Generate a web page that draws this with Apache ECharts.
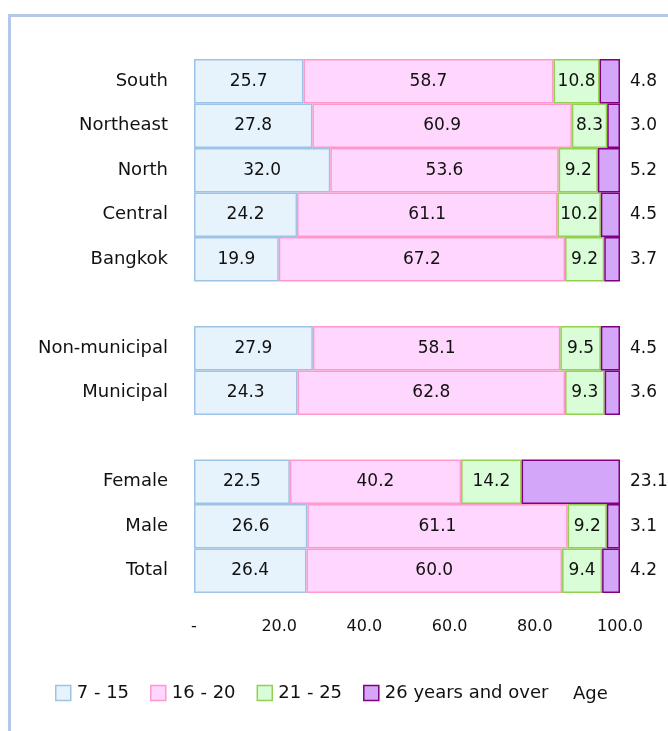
<!DOCTYPE html>
<html>
<head>
<meta charset="utf-8">
<script src="https://cdn.jsdelivr.net/npm/echarts@6/dist/echarts.min.js"></script>
<style>
  html, body { margin: 0; padding: 0; background: #ffffff; }
  #chart { width: 668px; height: 731px; }
</style>
</head>
<body>
<div id="chart"></div>
<script>
// Row labels, top to bottom; empty strings (distinct whitespace) are spacer rows between groups
const categories = ['South', 'Northeast', 'North', 'Central', 'Bangkok', ' ',
                    'Non-municipal', 'Municipal', '  ',
                    'Female', 'Male', 'Total'];

// Share of each age group (%), one value per row; null on spacer rows
const age7to15   = [25.7, 27.8, 32.0, 24.2, 19.9, null, 27.9, 24.3, null, 22.5, 26.6, 26.4];
const age16to20  = [58.7, 60.9, 53.6, 61.1, 67.2, null, 58.1, 62.8, null, 40.2, 61.1, 60.0];
const age21to25  = [10.8,  8.3,  9.2, 10.2,  9.2, null,  9.5,  9.3, null, 14.2,  9.2,  9.4];
const age26plus  = [ 4.8,  3.0,  5.2,  4.5,  3.7, null,  4.5,  3.6, null, 23.1,  3.1,  4.2];

const seriesNames = ['7 - 15', '16 - 20', '21 - 25', '26 years and over'];
const axisTicks = [0, 20, 40, 60, 80, 100];

const FONT = 'DejaVu Sans';
const TEXT = '#111111';

const styles = [
  { fill: '#e6f3fd', border: '#9dc3e6' },
  { fill: '#ffd6fd', border: '#ff99cc' },
  { fill: '#d9fdd6', border: '#92d050' },
  { fill: '#d4a6f9', border: '#800080' }
];

function fmt(v) { return v == null ? '' : v.toFixed(1); }

const dataSets = [age7to15, age16to20, age21to25, age26plus];

const series = dataSets.map((values, i) => ({
  name: seriesNames[i],
  type: 'bar',
  stack: 'share',
  barCategoryGap: '0%',
  data: values,
  itemStyle: {
    color: styles[i].fill,
    borderColor: styles[i].border,
    borderWidth: 1.5
  },
  label: {
    show: true,
    position: i === 3 ? 'right' : 'inside',
    distance: 10,
    color: TEXT,
    fontFamily: FONT,
    fontSize: 17,
    formatter: p => fmt(p.value)
  },
  emphasis: { disabled: true }
}));

const chart = echarts.init(document.getElementById('chart'), null, { renderer: 'canvas' });
chart.setOption({
  animation: false,
  backgroundColor: '#ffffff',
  grid: { left: 194, right: 48, top: 59, bottom: 138, containLabel: false },
  xAxis: {
    type: 'value',
    min: axisTicks[0],
    max: axisTicks[axisTicks.length - 1],
    interval: axisTicks[1] - axisTicks[0],
    axisLine: { show: false },
    axisTick: { show: false },
    splitLine: { show: false },
    axisLabel: {
      margin: 26,
      color: TEXT,
      fontFamily: FONT,
      fontSize: 16,
      formatter: v => (v === 0 ? '-' : v.toFixed(1))
    }
  },
  yAxis: {
    type: 'category',
    inverse: true,
    data: categories,
    axisLine: { show: false },
    axisTick: { show: false },
    splitLine: { show: false },
    axisLabel: {
      margin: 26,
      color: TEXT,
      fontFamily: FONT,
      fontSize: 18
    }
  },
  legend: {
    left: 55,
    top: 684,
    padding: 0,
    itemWidth: 15,
    itemHeight: 15,
    itemGap: 21,
    textStyle: { color: TEXT, fontFamily: FONT, fontSize: 18, padding: [0, 0, 0, 1] },
    data: seriesNames.map((n, i) => ({
      name: n,
      icon: 'rect',
      itemStyle: { color: styles[i].fill, borderColor: styles[i].border, borderWidth: 1.5 }
    }))
  },
  graphic: [
    {
      type: 'rect',
      silent: true,
      shape: { x: 9.5, y: 15.5, width: 720, height: 800 },
      style: { fill: 'none', stroke: '#b4c7e7', lineWidth: 3 }
    },
    {
      type: 'text',
      left: 573,
      top: 685,
      style: { text: 'Age', fill: TEXT, font: '18px "DejaVu Sans"' }
    }
  ],
  series: series
});
</script>
</body>
</html>
